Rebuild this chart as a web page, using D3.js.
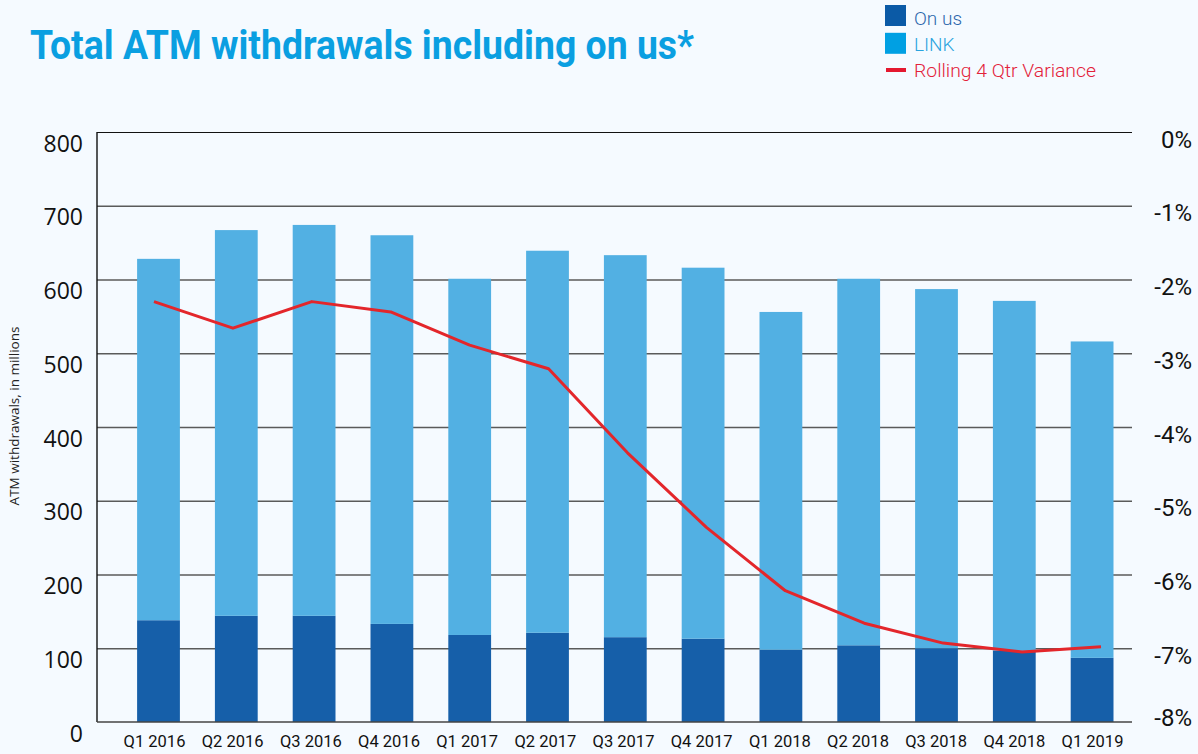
<!DOCTYPE html>
<html>
<head>
<meta charset="utf-8">
<script src="https://cdn.jsdelivr.net/npm/d3@7/dist/d3.min.js"></script>
<style>
  html, body { margin: 0; padding: 0; background: #f5faff; }
  svg { display: block; }
</style>
</head>
<body>
<svg id="chart" width="1198" height="754"></svg>
<script>
// ---- data ----
const quarters = ["Q1 2016","Q2 2016","Q3 2016","Q4 2016","Q1 2017","Q2 2017","Q3 2017","Q4 2017","Q1 2018","Q2 2018","Q3 2018","Q4 2018","Q1 2019"];
const onUs = [138,144,144,133,118,121,115,113,98,104,100,97,87];
const link = [490,523,530,527,483,518,518,503,458,497,487,474,429];
const variance = [-2.30,-2.66,-2.30,-2.44,-2.89,-3.21,-4.35,-5.36,-6.22,-6.66,-6.93,-7.05,-6.98];
const leftTicks = [0,100,200,300,400,500,600,700,800];
const rightTicks = [0,-1,-2,-3,-4,-5,-6,-7,-8];
const titleText = "Total ATM withdrawals including on us*";
const yTitle = "ATM withdrawals, in millions";
const legendItems = [
  {label: "On us", kind: "rect", fill: "#0b5aa6", text: "#2d67ac"},
  {label: "LINK", kind: "rect", fill: "#00a0e3", text: "#2aa3de"},
  {label: "Rolling 4 Qtr Variance", kind: "line", fill: "#e4182f", text: "#e3223a"}
];

// ---- layout ----
const svg = d3.select("#chart");
const plotL = 97, plotR = 1132, plotT = 132, plotB = 722;

const x = d3.scaleBand().domain(quarters).range([119.6, 1131]).paddingInner(0.45).paddingOuter(0.225);
const xLine = d3.scalePoint().domain(quarters).range([154, 1101]);
const xLab = d3.scalePoint().domain(quarters).range([154, 1092]);
const y = d3.scaleLinear().domain([0, 800]).range([plotB, plotT]);
const y2 = d3.scaleLinear().domain([-8, 0]).range([plotB, plotT]);

svg.append("rect").attr("width", 1198).attr("height", 754).attr("fill", "#f5faff");

// gridlines
const grid = svg.append("g").attr("transform", `translate(${plotL},0)`)
  .call(d3.axisRight(y).tickValues(leftTicks.slice(1)).tickSize(plotR - plotL).tickFormat(""));
grid.select(".domain").remove();
grid.selectAll("line").attr("stroke", "#5a5a5a").attr("stroke-width", 1.4);
grid.selectAll(".tick").filter(d => d === 800).select("line").attr("stroke", "#111").attr("stroke-width", 1.1);

// bars
const stackData = quarters.map((q, i) => ({q, onUs: onUs[i], link: link[i]}));
const series = d3.stack().keys(["onUs", "link"])(stackData);
const barColors = {onUs: "#165fa9", link: "#52b0e3"};
svg.append("g").selectAll("g").data(series).join("g")
  .attr("fill", s => barColors[s.key])
  .selectAll("rect").data(s => s).join("rect")
  .attr("x", d => x(d.data.q))
  .attr("width", x.bandwidth())
  .attr("y", d => y(d[1]))
  .attr("height", d => y(d[0]) - y(d[1]));

// axis lines
svg.append("line").attr("x1", plotL).attr("x2", plotL).attr("y1", plotT).attr("y2", plotB)
  .attr("stroke", "#111").attr("stroke-width", 1.4);
svg.append("line").attr("x1", plotL).attr("x2", plotR).attr("y1", plotB).attr("y2", plotB)
  .attr("stroke", "#444").attr("stroke-width", 1.6);

// variance line
const line = d3.line().x((d, i) => xLine(quarters[i])).y(d => y2(d));
svg.append("path").datum(variance).attr("d", line)
  .attr("fill", "none").attr("stroke", "#e3262b").attr("stroke-width", 3)
  .attr("stroke-linejoin", "round");

// left axis labels
const la = svg.append("g").attr("transform", `translate(${plotL},0)`)
  .call(d3.axisLeft(y).tickValues(leftTicks).tickSize(0).tickPadding(14).tickFormat(d3.format("d")));
la.select(".domain").remove();
la.selectAll("text").attr("font-family", "'Open Sans', 'Noto Sans', sans-serif")
  .attr("font-size", 23).attr("fill", "#111").attr("dy", "0").attr("dominant-baseline", "central")
  .attr("transform", "translate(0,10)");

// right axis labels
const ra = svg.append("g").attr("transform", `translate(1192,0)`)
  .call(d3.axisLeft(y2).tickValues(rightTicks).tickSize(0).tickPadding(0).tickFormat(d => d + "%"));
ra.select(".domain").remove();
ra.selectAll("text").attr("font-family", "Roboto, sans-serif")
  .attr("font-size", 24).attr("fill", "#111").attr("dy", "0").attr("dominant-baseline", "central")
  .attr("transform", d => d === -8 ? "translate(0,-5)" : "translate(0,7)");

// x labels
const xa = svg.append("g").attr("transform", `translate(0,${plotB})`)
  .call(d3.axisBottom(xLab).tickSize(0).tickPadding(0));
xa.select(".domain").remove();
xa.selectAll("text").attr("font-family", "Roboto, sans-serif").attr("font-size", 16.5)
  .attr("fill", "#111").attr("dy", "0").attr("y", 25);

// y axis title
svg.append("text").attr("transform", "translate(19,416) rotate(-90)")
  .attr("text-anchor", "middle").attr("font-family", "'Open Sans', 'Noto Sans', sans-serif")
  .attr("font-size", 13.5).attr("fill", "#222").text(yTitle);

// title
svg.append("text").attr("x", 30).attr("y", 58.5)
  .attr("font-family", "Roboto, sans-serif").attr("font-weight", 700)
  .attr("font-size", 40).attr("fill", "#0a9fe1")
  .attr("textLength", 664).attr("lengthAdjust", "spacingAndGlyphs")
  .text(titleText);

// legend
const lg = svg.append("g").attr("transform", "translate(885,0)");
legendItems.forEach((it, i) => {
  if (it.kind === "rect") {
    lg.append("rect").attr("y", 5 + i * 27.8).attr("width", 21).attr("height", 21).attr("fill", it.fill);
  } else {
    lg.append("rect").attr("x", 1).attr("y", 68).attr("width", 20).attr("height", 4).attr("fill", it.fill);
  }
  const t = lg.append("text").attr("x", 29).attr("y", 24.5 + i * 26.3)
    .attr("font-family", "Roboto, sans-serif").attr("font-weight", 300)
    .attr("font-size", 19).attr("fill", it.text).text(it.label);
  if (it.kind === "line") t.attr("textLength", 182).attr("lengthAdjust", "spacingAndGlyphs");
});
</script>
</body>
</html>
